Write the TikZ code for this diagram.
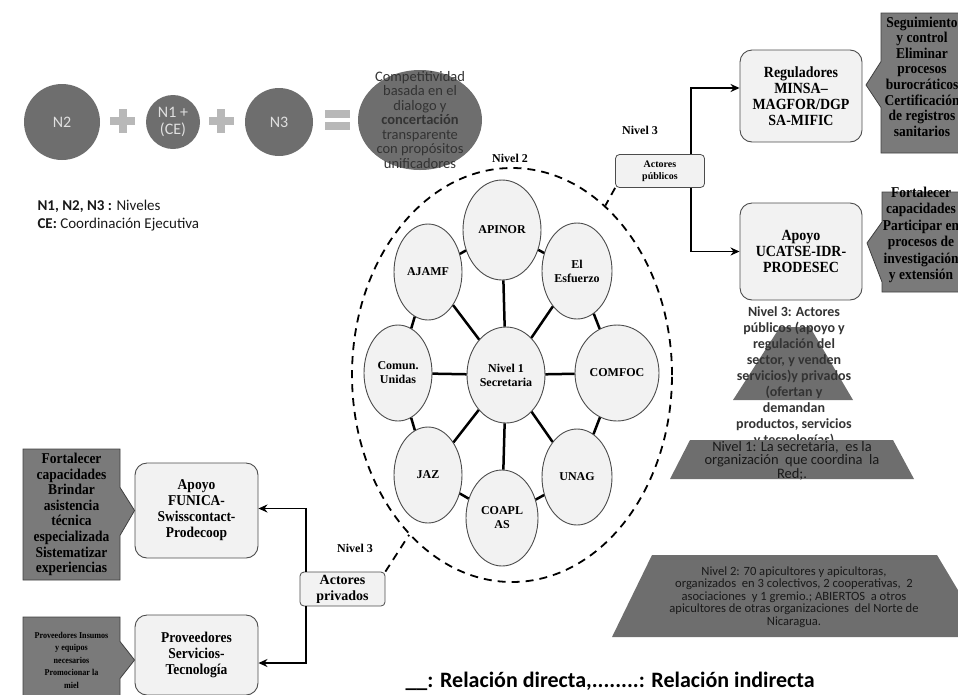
\documentclass[tikz,border=0pt]{standalone}
\usepackage{fontspec}
\setmainfont{Liberation Serif}
\newfontfamily\narrow{Liberation Serif}[FakeStretch=0.9, Ligatures=TeX]
\newfontfamily\calibri{Carlito}
\usetikzlibrary{shapes.geometric, shapes.callouts, arrows.meta, positioning}

\definecolor{boxfill}{HTML}{F2F2F2}
\definecolor{dkgray}{HTML}{6E6E6E}
\definecolor{callgray}{HTML}{7A7A7A}
\definecolor{opgray}{HTML}{B8B8B8}
\definecolor{txtgray}{HTML}{333333}

\begin{document}
\begin{tikzpicture}[
  x=1pt, y=-1pt,
  org/.style={ellipse, draw=black!70, fill=boxfill, line width=0.9pt, inner sep=0pt, minimum width=70pt, minimum height=96pt, align=center, font=\fontsize{12}{14}\selectfont\bfseries},
  actor/.style={draw=black!70, fill=boxfill, rounded corners=12pt, line width=0.9pt, minimum width=123pt, minimum height=95pt, align=center, font=\narrow\fontsize{15}{16}\selectfont\bfseries},
  tag/.style={draw=black!70, fill=boxfill, rounded corners=4pt, line width=0.8pt, align=center, inner sep=0pt},
  note/.style={rectangle callout, draw=black!75, fill=callgray, line width=0.8pt, align=center, inner sep=0pt, font=\narrow\fontsize{15}{15.6}\selectfont\bfseries},
  lvl/.style={circle, fill=dkgray, text=white!88!black, inner sep=0pt, align=center, font=\calibri\fontsize{16}{17}\selectfont},
  link/.style={line width=2.5pt},
  ar/.style={-{Stealth[length=9pt, width=8pt]}, line width=1.8pt},
  indirect/.style={line width=1.8pt, dash pattern=on 8pt off 6pt},
  lbl/.style={font=\fontsize{12}{14}\selectfont\bfseries},
  op/.style={fill=opgray},
  step3/.style={fill=dkgray},
]
\useasboundingbox (0,0) rectangle (958,694);
\clip (0,0) rectangle (958,694);

% levels N2 + N1 + N3 = goal
\node[lvl, minimum size=76pt] (n2) at (62,122) {N2};
\node[lvl, minimum size=54pt] (n1) at (173,122) {N1 +\\(CE)};
\node[lvl, minimum size=68pt] (n3) at (279,122) {N3};
\foreach \cx in {122.5,221}{
  \fill[op] (\cx-12.5,117) rectangle (\cx+12.5,125);
  \fill[op] (\cx-4,109) rectangle (\cx+4,133);
}
\fill[op] (325,110) rectangle (350,118);
\fill[op] (325,122) rectangle (350,130);
\node[ellipse, fill=dkgray, minimum width=124pt, minimum height=100pt] (goal) at (420,120) {};
\node[align=center, text=txtgray, font=\calibri\fontsize{14.5}{14.5}\selectfont] (goaltxt) at (goal.center)
  {Competitividad\\basada en el\\dialogo y\\\textbf{concertación}\\transparente\\con propósitos\\unificadores};
\node[anchor=west, align=left, text=black!90, font=\calibri\fontsize{15}{18}\selectfont] (key) at (34,216)
  {\textbf{N1, N2, N3 :} Niveles\\\textbf{CE:} Coordinación Ejecutiva};

% level 2 network
\node[ellipse, draw, indirect, minimum width=320pt, minimum height=414pt] (net) at (512,375) {};
\node[lbl] (net2) at (510,158) {Nivel 2};
\node[org, minimum width=78pt, minimum height=100pt] (apinor) at (502,230) {APINOR};
\node[org, minimum width=68pt] (ajamf) at (428,272) {AJAMF};
\node[org] (esf) at (577,271) {El\\Esfuerzo};
\node[org, minimum width=68pt] (comun) at (398,373) {Comun.\\Unidas};
\node[org, minimum width=78pt] (sec) at (506,375) {Nivel 1\\Secretaria};
\node[org, minimum width=84pt] (comfoc) at (617,373) {COMFOC};
\node[org, minimum width=68pt] (jaz) at (428,475) {JAZ};
\node[org, minimum width=72pt] (coapl) at (502,518) {COAPL\\AS};
\node[org] (unag) at (577,477) {UNAG};
\foreach \a/\b in {sec/apinor, sec/ajamf, sec/esf, sec/comun, sec/comfoc, sec/jaz, sec/coapl, sec/unag,
  ajamf/apinor, apinor/esf, esf/comfoc, ajamf/comun, comun/jaz, jaz/coapl, coapl/unag, unag/comfoc}{
  \draw[link] (\a) -- (\b);
}

% level 3, public side
\node[tag, minimum width=89pt, minimum height=33pt, font=\fontsize{10}{12}\selectfont\bfseries] (pub) at (660,171) {Actores\\públicos};
\node[lbl] (pub3) at (640,130) {Nivel 3};
\draw[indirect] (pub.south west) -- (net);
\node[actor, minimum width=122pt, minimum height=92pt, font=\narrow\fontsize{15.5}{16}\selectfont\bfseries] (reg) at (801,96) {Reguladores\\MINSA–\\MAGFOR/DGP\\SA-MIFIC};
\node[actor, minimum width=122pt, minimum height=97pt, font=\narrow\fontsize{15.5}{16}\selectfont\bfseries] (ucat) at (801,251.5) {Apoyo\\UCATSE-IDR-\\PRODESEC};
\draw[ar] ([xshift=-14pt]pub.north east) |- ([yshift=8pt]reg.west);
\draw[ar] ([xshift=-14pt]pub.south east) |- (ucat.west);
\node[note, minimum width=88pt, minimum height=140pt, callout absolute pointer={(866,85)}, callout pointer width=46pt] (seg) at (925,83) {};
\node[align=center, font=\narrow\fontsize{15}{15.6}\selectfont\bfseries] (segtxt) at ([xshift=-3pt,yshift=6.5pt]seg.center)
  {Seguimiento\\y control\\Eliminar\\procesos\\burocráticos\\Certificación\\de registros\\sanitarios};
\node[note, minimum width=88pt, minimum height=100pt, callout absolute pointer={(867,243)}, callout pointer width=60pt] (inv) at (926,242) {};
\node[align=center, font=\narrow\fontsize{15}{16.5}\selectfont\bfseries] (invtxt) at ([xshift=-5pt,yshift=7pt]inv.center)
  {Fortalecer\\capacidades\\Participar en\\procesos de\\investigación\\y extensión};

% pyramid of levels
\fill[step3] (733,400) -- (853,400) -- (810,327) -- (780,327) -- cycle;
\node[align=center, text=txtgray, font=\calibri\fontsize{14}{16}\selectfont\bfseries] (lvl3) at (794,377)
  {Nivel 3: Actores\\públicos (apoyo y\\regulación del\\sector, y venden\\servicios)y privados\\(ofertan y\\demandan\\productos, servicios\\y tecnologías)};
\fill[step3] (690,440) -- (893,440) -- (914,479) -- (670,479) -- cycle;
\node[align=center, text=black!90, font=\calibri\fontsize{14.5}{13.5}\selectfont] (lvl1) at (792,460.5)
  {Nivel 1: La secretaria,\ \ es la\\organización\ \ que coordina\ \ la\\Red;.};
\fill[step3] (652,555) -- (937,555) -- (986,637) -- (612,637) -- cycle;
\node[align=center, text=black!90, font=\calibri\fontsize{12.6}{12.6}\selectfont] (lvl2) at (794,597)
  {Nivel 2: 70 apicultores y apicultoras,\\organizados\ \ en 3 colectivos, 2 cooperativas,\ \ 2\\asociaciones\ \ y 1 gremio.; ABIERTOS\ \ a otros\\apicultores de otras organizaciones\ \ del Norte de\\Nicaragua.};

% level 3, private side
\node[tag, minimum width=85pt, minimum height=34pt, font=\fontsize{14}{16}\selectfont\bfseries] (priv) at (342.5,589) {Actores\\privados};
\node[lbl] (priv3) at (355,548) {Nivel 3};
\draw[indirect] (priv.north east) -- (net);
\node[actor] (fun) at (196.5,510.5) {Apoyo\\FUNICA-\\Swisscontact-\\Prodecoop};
\node[actor, minimum height=80pt] (prov) at (196.5,655) {Proveedores\\Servicios-\\Tecnología};
\draw[ar] ([xshift=6pt]priv.north west) |- ([yshift=2pt]fun.east);
\draw[ar] ([xshift=6pt]priv.south west) |- ([yshift=-8pt]prov.east);
\node[note, minimum width=97pt, minimum height=131pt, callout absolute pointer={(fun.west)}, callout pointer width=48pt] (cap) at (71.5,514.5)
  {Fortalecer\\capacidades\\Brindar\\asistencia\\técnica\\especializada\\Sistematizar\\experiencias};
\node[note, minimum width=97pt, minimum height=86pt, callout absolute pointer={([yshift=-5pt]prov.west)}, callout pointer width=37pt,
  font=\narrow\fontsize{9}{12.5}\selectfont\bfseries] (ins) at (71.5,660)
  {Proveedores Insumos\\y equipos\\necesarios\\Promocionar la\\miel};

% line legend
\node[anchor=west, font=\calibri\fontsize{22}{24}\selectfont\bfseries] (lines) at (402,681)
  {\_\_: Relación directa,........: Relación indirecta};
\end{tikzpicture}
\end{document}
